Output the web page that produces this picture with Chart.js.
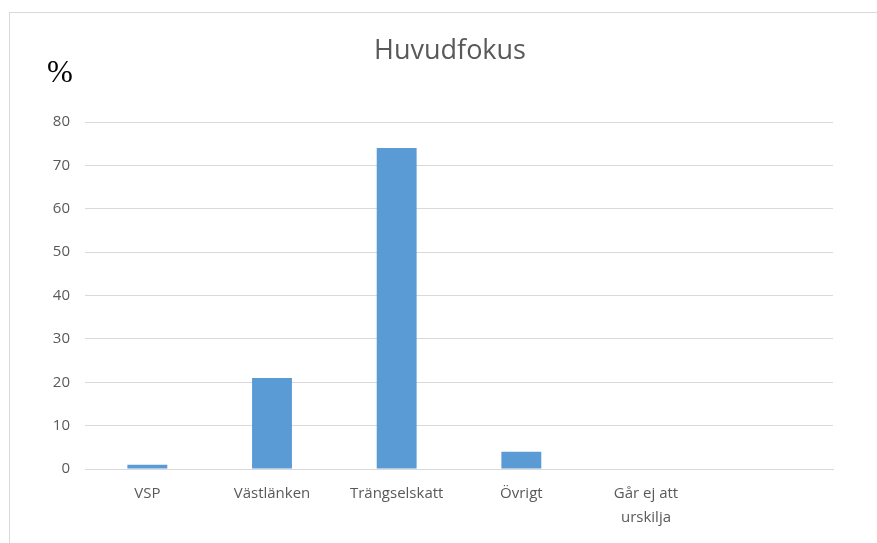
<!DOCTYPE html>
<html>
<head>
<meta charset="utf-8">
<script src="https://cdn.jsdelivr.net/npm/chart.js@4/dist/chart.umd.min.js"></script>
<style>
  body { margin: 0; background: #fff; }
  #wrap { position: relative; width: 877px; height: 543px; }
  #frame { position: absolute; left: 9px; top: 12px; width: 880px; height: 540px; border: 1px solid #d9d9d9; box-sizing: border-box; }
  #pct { position: absolute; left: 47px; top: 53px; font-family: "Liberation Serif", "DejaVu Serif", serif; font-size: 31px; line-height: 1.2; color: #000; }
  canvas { position: absolute; left: 0; top: 0; }
</style>
</head>
<body>
<div id="wrap">
  <div id="frame"></div>
  <canvas id="myChart" width="877" height="543"></canvas>
  <div id="pct">%</div>
</div>
<script>
// data
const categories = ['VSP', 'Västlänken', 'Trängselskatt', 'Övrigt', ['Går ej att', 'urskilja'], ''];
const values = [1, 21, 74, 4, 0, null];
const yTicks = [0, 10, 20, 30, 40, 50, 60, 70, 80];
const chartTitle = 'Huvudfokus';

const textColor = '#595959';

// title drawn at a fixed centre, like the original
const titlePlugin = {
    id: 'fixedTitle',
    afterDraw(chart) {
        const ctx = chart.ctx;
        ctx.save();
        ctx.font = '27px "Open Sans"';
        ctx.fillStyle = textColor;
        ctx.textAlign = 'center';
        ctx.textBaseline = 'middle';
        ctx.fillText(chartTitle, 450, 51);
        ctx.restore();
    }
};

const config = {
    type: 'bar',
    data: {
        labels: categories,
        datasets: [{
            label: chartTitle,
            data: values,
            backgroundColor: '#5b9bd5',
            barPercentage: 0.64,
            categoryPercentage: 0.5
        }]
    },
    options: {
        responsive: false,
        animation: false,
        layout: { padding: { left: 0, right: 44, top: 122, bottom: 0 } },
        plugins: {
            legend: { display: false },
            tooltip: { enabled: false },
            title: { display: false }
        },
        scales: {
            x: {
                grid: { display: false, drawTicks: false },
                border: { color: '#d9d9d9', width: 1 },
                ticks: {
                    color: textColor,
                    font: { family: 'Open Sans', size: 15, lineHeight: 1.65 },
                    padding: 12,
                    maxRotation: 0,
                    autoSkip: false
                },
                afterFit: (s) => { s.height = 74; }
            },
            y: {
                min: 0,
                max: 80,
                afterBuildTicks: (s) => { s.ticks = yTicks.map(v => ({ value: v })); },
                grid: { color: '#d9d9d9', drawTicks: false },
                border: { display: false },
                ticks: {
                    color: textColor,
                    font: { family: 'Open Sans', size: 15 },
                    padding: 15
                },
                afterFit: (s) => { s.width = 85; }
            }
        }
    },
    plugins: [titlePlugin]
};

new Chart(document.getElementById('myChart').getContext('2d'), config);
</script>
</body>
</html>
